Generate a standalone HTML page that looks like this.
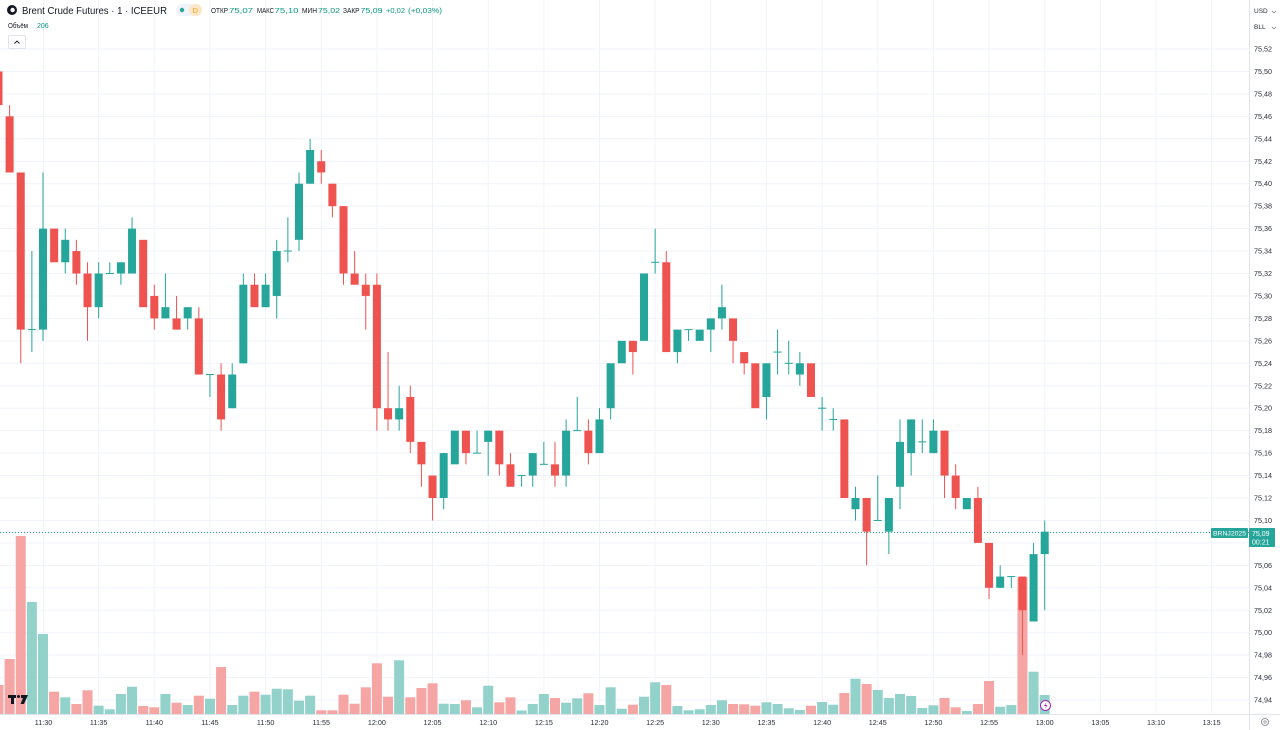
<!DOCTYPE html>
<html><head><meta charset="utf-8"><style>
html,body{margin:0;padding:0;background:#fff;}
svg{display:block;font-family:"Liberation Sans","Noto Sans CJK SC",sans-serif;}
</style></head><body>
<svg width="1280" height="730" viewBox="0 0 1280 730" xmlns="http://www.w3.org/2000/svg">
<rect width="1280" height="730" fill="#fff"/>
<!-- grid -->
<path fill="none" stroke="#f0f3fa" stroke-width="1" d="M0 49H1249M0 71.45H1249M0 93.9H1249M0 116.35H1249M0 138.8H1249M0 161.25H1249M0 183.7H1249M0 206.15H1249M0 228.6H1249M0 251.05H1249M0 273.5H1249M0 295.95H1249M0 318.4H1249M0 340.85H1249M0 363.3H1249M0 385.75H1249M0 408.2H1249M0 430.65H1249M0 453.1H1249M0 475.55H1249M0 498H1249M0 520.45H1249M0 542.9H1249M0 565.35H1249M0 587.8H1249M0 610.25H1249M0 632.7H1249M0 655.15H1249M0 677.6H1249M0 700.05H1249"/>
<path fill="none" stroke="#f0f3fa" stroke-width="1" d="M43.5 0V714M98.65 0V714M154.3 0V714M209.95 0V714M265.6 0V714M321.25 0V714M376.9 0V714M432.55 0V714M488.2 0V714M543.85 0V714M599.5 0V714M655.15 0V714M710.8 0V714M766.45 0V714M822.1 0V714M877.75 0V714M933.4 0V714M989.05 0V714M1044.7 0V714M1100.35 0V714M1156 0V714M1211.65 0V714"/>

<!-- volume -->
<g transform="matrix(11.13,0,0,1,43,0)">
<g fill="#f5a5a3">
<rect x="-4.45" y="685" width="0.9" height="29"/>
<rect x="-3.45" y="659" width="0.9" height="55"/>
<rect x="-2.45" y="536" width="0.9" height="178"/>
<rect x="0.55" y="691.7" width="0.9" height="22.3"/>
<rect x="2.55" y="704" width="0.9" height="10"/>
<rect x="3.55" y="690.3" width="0.9" height="23.7"/>
<rect x="8.55" y="706" width="0.9" height="8"/>
<rect x="9.55" y="707.3" width="0.9" height="6.7"/>
<rect x="11.55" y="702.7" width="0.9" height="11.3"/>
<rect x="13.55" y="695.7" width="0.9" height="18.3"/>
<rect x="15.55" y="667" width="0.9" height="47"/>
<rect x="18.55" y="691.7" width="0.9" height="22.3"/>
<rect x="24.55" y="710.3" width="0.9" height="3.7"/>
<rect x="25.55" y="710.3" width="0.9" height="3.7"/>
<rect x="26.55" y="694.7" width="0.9" height="19.3"/>
<rect x="27.55" y="703.7" width="0.9" height="10.3"/>
<rect x="28.55" y="687.3" width="0.9" height="26.7"/>
<rect x="29.55" y="663.3" width="0.9" height="50.7"/>
<rect x="30.55" y="696.7" width="0.9" height="17.3"/>
<rect x="32.55" y="697.3" width="0.9" height="16.7"/>
<rect x="33.55" y="688" width="0.9" height="26"/>
<rect x="34.55" y="683.3" width="0.9" height="30.7"/>
<rect x="37.55" y="700.3" width="0.9" height="13.7"/>
<rect x="40.55" y="702.3" width="0.9" height="11.7"/>
<rect x="41.55" y="697.3" width="0.9" height="16.7"/>
<rect x="45.55" y="698" width="0.9" height="16"/>
<rect x="48.55" y="693.3" width="0.9" height="20.7"/>
<rect x="52.55" y="704.7" width="0.9" height="9.3"/>
<rect x="55.55" y="685" width="0.9" height="29"/>
<rect x="61.55" y="704" width="0.9" height="10"/>
<rect x="62.55" y="704.3" width="0.9" height="9.7"/>
<rect x="63.55" y="705.7" width="0.9" height="8.3"/>
<rect x="68.55" y="705.7" width="0.9" height="8.3"/>
<rect x="71.55" y="693" width="0.9" height="21"/>
<rect x="73.55" y="684" width="0.9" height="30"/>
<rect x="80.55" y="698" width="0.9" height="16"/>
<rect x="81.55" y="707.3" width="0.9" height="6.7"/>
<rect x="83.55" y="704" width="0.9" height="10"/>
<rect x="84.55" y="681" width="0.9" height="33"/>
<rect x="87.55" y="577.3" width="0.9" height="136.7"/>
</g>
<g fill="#92d2cb">
<rect x="-1.45" y="602" width="0.9" height="112"/>
<rect x="-0.45" y="634" width="0.9" height="80"/>
<rect x="1.55" y="697.3" width="0.9" height="16.7"/>
<rect x="4.55" y="705.7" width="0.9" height="8.3"/>
<rect x="5.55" y="709.3" width="0.9" height="4.7"/>
<rect x="6.55" y="694" width="0.9" height="20"/>
<rect x="7.55" y="686.7" width="0.9" height="27.3"/>
<rect x="10.55" y="694" width="0.9" height="20"/>
<rect x="12.55" y="705" width="0.9" height="9"/>
<rect x="14.55" y="698.7" width="0.9" height="15.3"/>
<rect x="16.55" y="705" width="0.9" height="9"/>
<rect x="17.55" y="695.7" width="0.9" height="18.3"/>
<rect x="19.55" y="694.7" width="0.9" height="19.3"/>
<rect x="20.55" y="688.7" width="0.9" height="25.3"/>
<rect x="21.55" y="689.3" width="0.9" height="24.7"/>
<rect x="22.55" y="700.7" width="0.9" height="13.3"/>
<rect x="23.55" y="695.7" width="0.9" height="18.3"/>
<rect x="31.55" y="660.3" width="0.9" height="53.7"/>
<rect x="35.55" y="703.7" width="0.9" height="10.3"/>
<rect x="36.55" y="704" width="0.9" height="10"/>
<rect x="38.55" y="707.3" width="0.9" height="6.7"/>
<rect x="39.55" y="685.7" width="0.9" height="28.3"/>
<rect x="42.55" y="710.5" width="0.9" height="3.5"/>
<rect x="43.55" y="704" width="0.9" height="10"/>
<rect x="44.55" y="694" width="0.9" height="20"/>
<rect x="46.55" y="702.7" width="0.9" height="11.3"/>
<rect x="47.55" y="698.3" width="0.9" height="15.7"/>
<rect x="49.55" y="705" width="0.9" height="9"/>
<rect x="50.55" y="687.3" width="0.9" height="26.7"/>
<rect x="51.55" y="708.7" width="0.9" height="5.3"/>
<rect x="53.55" y="696.7" width="0.9" height="17.3"/>
<rect x="54.55" y="682.3" width="0.9" height="31.7"/>
<rect x="56.55" y="706" width="0.9" height="8"/>
<rect x="57.55" y="710.3" width="0.9" height="3.7"/>
<rect x="58.55" y="709.3" width="0.9" height="4.7"/>
<rect x="59.55" y="705" width="0.9" height="9"/>
<rect x="60.55" y="700.3" width="0.9" height="13.7"/>
<rect x="64.55" y="702.3" width="0.9" height="11.7"/>
<rect x="65.55" y="704" width="0.9" height="10"/>
<rect x="66.55" y="708.3" width="0.9" height="5.7"/>
<rect x="67.55" y="710" width="0.9" height="4"/>
<rect x="69.55" y="702" width="0.9" height="12"/>
<rect x="70.55" y="704.7" width="0.9" height="9.3"/>
<rect x="72.55" y="678.7" width="0.9" height="35.3"/>
<rect x="74.55" y="690" width="0.9" height="24"/>
<rect x="75.55" y="698" width="0.9" height="16"/>
<rect x="76.55" y="694" width="0.9" height="20"/>
<rect x="77.55" y="696" width="0.9" height="18"/>
<rect x="78.55" y="708" width="0.9" height="6"/>
<rect x="79.55" y="705.3" width="0.9" height="8.7"/>
<rect x="82.55" y="711" width="0.9" height="3"/>
<rect x="85.55" y="706.7" width="0.9" height="7.3"/>
<rect x="86.55" y="705" width="0.9" height="9"/>
<rect x="88.55" y="671.7" width="0.9" height="42.3"/>
<rect x="89.55" y="695" width="0.9" height="19"/>
</g>
</g>

<!-- price line -->
<line x1="0" y1="532.5" x2="1249" y2="532.5" stroke="#26a69a" stroke-width="1" stroke-dasharray="1 2"/>

<!-- candles: x = 43 + i*11.13 ; y = 1755.2 - 11.225*(P-7400) -->
<g transform="matrix(11.13,0,0,-11.225,43,1755.2)">
<g fill="#26a69a">
<!-- wicks -->
<rect x="-1.045" y="125" width="0.09" height="9"/>
<rect x="-0.045" y="126" width="0.09" height="15"/>
<rect x="1.955" y="132" width="0.09" height="4"/>
<rect x="4.955" y="128" width="0.09" height="5"/>
<rect x="5.955" y="132" width="0.09" height="1"/>
<rect x="6.955" y="131" width="0.09" height="2"/>
<rect x="7.955" y="132" width="0.09" height="5"/>
<rect x="10.955" y="128" width="0.09" height="4"/>
<rect x="12.955" y="127" width="0.09" height="2"/>
<rect x="14.955" y="121" width="0.09" height="2"/>
<rect x="16.955" y="120" width="0.09" height="4"/>
<rect x="17.955" y="124" width="0.09" height="8"/>
<rect x="19.955" y="129" width="0.09" height="3"/>
<rect x="20.955" y="128" width="0.09" height="7"/>
<rect x="21.955" y="133" width="0.09" height="4"/>
<rect x="22.955" y="134" width="0.09" height="7"/>
<rect x="23.955" y="140" width="0.09" height="4"/>
<rect x="31.955" y="118" width="0.09" height="4"/>
<rect x="35.955" y="111" width="0.09" height="5"/>
<rect x="38.955" y="116" width="0.09" height="2"/>
<rect x="39.955" y="114" width="0.09" height="4"/>
<rect x="42.955" y="113" width="0.09" height="1"/>
<rect x="43.955" y="113" width="0.09" height="3"/>
<rect x="44.955" y="115" width="0.09" height="2"/>
<rect x="46.955" y="113" width="0.09" height="6"/>
<rect x="47.955" y="118" width="0.09" height="3"/>
<rect x="49.955" y="116" width="0.09" height="4"/>
<rect x="50.955" y="119" width="0.09" height="5"/>
<rect x="54.955" y="132" width="0.09" height="4"/>
<rect x="56.955" y="124" width="0.09" height="3"/>
<rect x="57.955" y="126" width="0.09" height="1"/>
<rect x="59.955" y="125" width="0.09" height="3"/>
<rect x="60.955" y="127" width="0.09" height="4"/>
<rect x="64.955" y="119" width="0.09" height="5"/>
<rect x="65.955" y="123" width="0.09" height="4"/>
<rect x="66.955" y="123" width="0.09" height="3"/>
<rect x="67.955" y="122" width="0.09" height="3"/>
<rect x="69.955" y="118" width="0.09" height="3"/>
<rect x="70.955" y="118" width="0.09" height="2"/>
<rect x="72.955" y="110" width="0.09" height="3"/>
<rect x="74.955" y="110" width="0.09" height="4"/>
<rect x="75.955" y="107" width="0.09" height="5"/>
<rect x="76.955" y="111" width="0.09" height="8"/>
<rect x="77.955" y="114" width="0.09" height="5"/>
<rect x="78.955" y="116" width="0.09" height="3"/>
<rect x="79.955" y="116" width="0.09" height="3"/>
<rect x="85.955" y="104" width="0.09" height="2"/>
<rect x="86.955" y="104" width="0.09" height="1"/>
<rect x="88.955" y="101" width="0.09" height="7"/>
<rect x="89.955" y="102" width="0.09" height="8"/>
<!-- bodies -->
<rect x="-1.36" y="126.955" width="0.72" height="0.09"/>
<rect x="-0.36" y="127" width="0.72" height="9"/>
<rect x="1.64" y="133" width="0.72" height="2"/>
<rect x="4.64" y="129" width="0.72" height="3"/>
<rect x="5.64" y="131.955" width="0.72" height="0.09"/>
<rect x="6.64" y="132" width="0.72" height="1"/>
<rect x="7.64" y="132" width="0.72" height="4"/>
<rect x="10.64" y="128" width="0.72" height="1"/>
<rect x="12.64" y="128" width="0.72" height="1"/>
<rect x="14.64" y="122.955" width="0.72" height="0.09"/>
<rect x="16.64" y="120" width="0.72" height="3"/>
<rect x="17.64" y="124" width="0.72" height="7"/>
<rect x="19.64" y="129" width="0.72" height="2"/>
<rect x="20.64" y="130" width="0.72" height="4"/>
<rect x="21.64" y="133.955" width="0.72" height="0.09"/>
<rect x="22.64" y="135" width="0.72" height="5"/>
<rect x="23.64" y="140" width="0.72" height="3"/>
<rect x="31.64" y="119" width="0.72" height="1"/>
<rect x="35.64" y="112" width="0.72" height="4"/>
<rect x="36.64" y="115" width="0.72" height="3"/>
<rect x="38.64" y="115.955" width="0.72" height="0.09"/>
<rect x="39.64" y="117" width="0.72" height="1"/>
<rect x="42.64" y="113.955" width="0.72" height="0.09"/>
<rect x="43.64" y="114" width="0.72" height="2"/>
<rect x="44.64" y="114.955" width="0.72" height="0.09"/>
<rect x="46.64" y="114" width="0.72" height="4"/>
<rect x="47.64" y="117.955" width="0.72" height="0.09"/>
<rect x="49.64" y="116" width="0.72" height="3"/>
<rect x="50.64" y="120" width="0.72" height="4"/>
<rect x="51.64" y="124" width="0.72" height="2"/>
<rect x="53.64" y="126" width="0.72" height="6"/>
<rect x="54.64" y="132.955" width="0.72" height="0.09"/>
<rect x="56.64" y="125" width="0.72" height="2"/>
<rect x="57.64" y="126.955" width="0.72" height="0.09"/>
<rect x="58.64" y="126" width="0.72" height="1"/>
<rect x="59.64" y="127" width="0.72" height="1"/>
<rect x="60.64" y="128" width="0.72" height="1"/>
<rect x="64.64" y="121" width="0.72" height="3"/>
<rect x="65.64" y="124.955" width="0.72" height="0.09"/>
<rect x="66.64" y="123.955" width="0.72" height="0.09"/>
<rect x="67.64" y="123" width="0.72" height="1"/>
<rect x="69.64" y="119.955" width="0.72" height="0.09"/>
<rect x="70.64" y="118.955" width="0.72" height="0.09"/>
<rect x="72.64" y="111" width="0.72" height="1"/>
<rect x="74.64" y="109.955" width="0.72" height="0.09"/>
<rect x="75.64" y="109" width="0.72" height="3"/>
<rect x="76.64" y="113" width="0.72" height="4"/>
<rect x="77.64" y="116" width="0.72" height="3"/>
<rect x="78.64" y="116.955" width="0.72" height="0.09"/>
<rect x="79.64" y="116" width="0.72" height="2"/>
<rect x="82.64" y="111" width="0.72" height="1"/>
<rect x="85.64" y="104" width="0.72" height="1"/>
<rect x="86.64" y="104.955" width="0.72" height="0.09"/>
<rect x="88.64" y="101" width="0.72" height="6"/>
<rect x="89.64" y="107" width="0.72" height="2"/>
</g>
<g fill="#ef5350">
<!-- wicks -->
<rect x="-3.045" y="141" width="0.09" height="6"/>
<rect x="-2.045" y="124" width="0.09" height="17"/>
<rect x="2.955" y="131" width="0.09" height="4"/>
<rect x="3.955" y="126" width="0.09" height="7"/>
<rect x="9.955" y="127" width="0.09" height="4"/>
<rect x="11.955" y="127" width="0.09" height="3"/>
<rect x="13.955" y="123" width="0.09" height="6"/>
<rect x="15.955" y="118" width="0.09" height="6"/>
<rect x="18.955" y="129" width="0.09" height="3"/>
<rect x="24.955" y="140" width="0.09" height="3"/>
<rect x="25.955" y="137" width="0.09" height="3"/>
<rect x="26.955" y="131" width="0.09" height="7"/>
<rect x="27.955" y="131" width="0.09" height="3"/>
<rect x="28.955" y="127" width="0.09" height="5"/>
<rect x="29.955" y="118" width="0.09" height="14"/>
<rect x="30.955" y="118" width="0.09" height="7"/>
<rect x="32.955" y="116" width="0.09" height="6"/>
<rect x="33.955" y="113" width="0.09" height="4"/>
<rect x="34.955" y="110" width="0.09" height="4"/>
<rect x="37.955" y="115" width="0.09" height="3"/>
<rect x="40.955" y="114" width="0.09" height="4"/>
<rect x="41.955" y="113" width="0.09" height="3"/>
<rect x="45.955" y="113" width="0.09" height="4"/>
<rect x="48.955" y="115" width="0.09" height="4"/>
<rect x="52.955" y="123" width="0.09" height="3"/>
<rect x="55.955" y="125" width="0.09" height="9"/>
<rect x="61.955" y="124" width="0.09" height="4"/>
<rect x="62.955" y="123" width="0.09" height="2"/>
<rect x="73.955" y="106" width="0.09" height="6"/>
<rect x="80.955" y="112" width="0.09" height="6"/>
<rect x="81.955" y="111" width="0.09" height="4"/>
<rect x="83.955" y="108" width="0.09" height="5"/>
<rect x="84.955" y="103" width="0.09" height="5"/>
<rect x="87.955" y="98" width="0.09" height="7"/>
<!-- bodies -->
<rect x="-4.36" y="147" width="0.72" height="3"/>
<rect x="-3.36" y="141" width="0.72" height="5"/>
<rect x="-2.36" y="127" width="0.72" height="14"/>
<rect x="0.64" y="133" width="0.72" height="3"/>
<rect x="2.64" y="132" width="0.72" height="2"/>
<rect x="3.64" y="129" width="0.72" height="3"/>
<rect x="8.64" y="129" width="0.72" height="6"/>
<rect x="9.64" y="128" width="0.72" height="2"/>
<rect x="11.64" y="127" width="0.72" height="1"/>
<rect x="13.64" y="123" width="0.72" height="5"/>
<rect x="15.64" y="119" width="0.72" height="4"/>
<rect x="18.64" y="129" width="0.72" height="2"/>
<rect x="24.64" y="141" width="0.72" height="1"/>
<rect x="25.64" y="138" width="0.72" height="2"/>
<rect x="26.64" y="132" width="0.72" height="6"/>
<rect x="27.64" y="131" width="0.72" height="1"/>
<rect x="28.64" y="130" width="0.72" height="1"/>
<rect x="29.64" y="120" width="0.72" height="11"/>
<rect x="30.64" y="119" width="0.72" height="1"/>
<rect x="32.64" y="117" width="0.72" height="4"/>
<rect x="33.64" y="115" width="0.72" height="2"/>
<rect x="34.64" y="112" width="0.72" height="2"/>
<rect x="37.64" y="116" width="0.72" height="2"/>
<rect x="40.64" y="115" width="0.72" height="3"/>
<rect x="41.64" y="113" width="0.72" height="2"/>
<rect x="45.64" y="114" width="0.72" height="1"/>
<rect x="48.64" y="116" width="0.72" height="2"/>
<rect x="52.64" y="125" width="0.72" height="1"/>
<rect x="55.64" y="125" width="0.72" height="8"/>
<rect x="61.64" y="126" width="0.72" height="2"/>
<rect x="62.64" y="124" width="0.72" height="1"/>
<rect x="63.64" y="120" width="0.72" height="4"/>
<rect x="68.64" y="121" width="0.72" height="3"/>
<rect x="71.64" y="112" width="0.72" height="7"/>
<rect x="73.64" y="109" width="0.72" height="3"/>
<rect x="80.64" y="114" width="0.72" height="4"/>
<rect x="81.64" y="112" width="0.72" height="2"/>
<rect x="83.64" y="108" width="0.72" height="4"/>
<rect x="84.64" y="104" width="0.72" height="4"/>
<rect x="87.64" y="102" width="0.72" height="3"/>
</g>
</g>

<!-- axes -->
<rect x="1250" y="0" width="30" height="730" fill="#fff"/>
<rect x="0" y="714" width="1280" height="16" fill="#fff"/>
<line x1="1249.5" y1="0" x2="1249.5" y2="730" stroke="#e0e3eb" stroke-width="1"/>
<line x1="0" y1="714.5" x2="1280" y2="714.5" stroke="#e0e3eb" stroke-width="1"/>

<!-- price labels -->
<g font-size="7.2" fill="#2a2e39">
<text x="1254" y="51.5">75,52</text>
<text x="1254" y="74">75,50</text>
<text x="1254" y="96.4">75,48</text>
<text x="1254" y="118.9">75,46</text>
<text x="1254" y="141.3">75,44</text>
<text x="1254" y="163.8">75,42</text>
<text x="1254" y="186.2">75,40</text>
<text x="1254" y="208.7">75,38</text>
<text x="1254" y="231.1">75,36</text>
<text x="1254" y="253.6">75,34</text>
<text x="1254" y="276">75,32</text>
<text x="1254" y="298.5">75,30</text>
<text x="1254" y="320.9">75,28</text>
<text x="1254" y="343.4">75,26</text>
<text x="1254" y="365.8">75,24</text>
<text x="1254" y="388.3">75,22</text>
<text x="1254" y="410.7">75,20</text>
<text x="1254" y="433.2">75,18</text>
<text x="1254" y="455.6">75,16</text>
<text x="1254" y="478.1">75,14</text>
<text x="1254" y="500.5">75,12</text>
<text x="1254" y="523">75,10</text>
<text x="1254" y="567.9">75,06</text>
<text x="1254" y="590.3">75,04</text>
<text x="1254" y="612.8">75,02</text>
<text x="1254" y="635.2">75,00</text>
<text x="1254" y="657.7">74,98</text>
<text x="1254" y="680.1">74,96</text>
<text x="1254" y="702.6">74,94</text>
</g>
<g font-size="6.5" fill="#2a2e39">
<text x="1254" y="13">USD</text>
<text x="1254" y="29">BLL</text>
</g>
<path d="M1272 11l2 2 2-2M1272 27l2 2 2-2" stroke="#787b86" stroke-width="0.7" fill="none"/>

<!-- current price labels -->
<rect x="1211" y="528" width="37" height="10" rx="1" fill="#26a69a"/>
<text x="1213" y="535.6" font-size="6.4" fill="#fff" textLength="33" lengthAdjust="spacingAndGlyphs">BRNJ2025</text>
<rect x="1249" y="528" width="26" height="19" rx="1" fill="#26a69a"/>
<text x="1252" y="535.8" font-size="7" fill="#fff">75,09</text>
<text x="1252" y="544.5" font-size="7" fill="#fff">00:21</text>

<!-- time labels -->
<g font-size="7.2" fill="#2a2e39" text-anchor="middle">
<text x="43.5" y="725">11:30</text>
<text x="98.65" y="725">11:35</text>
<text x="154.3" y="725">11:40</text>
<text x="209.95" y="725">11:45</text>
<text x="265.6" y="725">11:50</text>
<text x="321.25" y="725">11:55</text>
<text x="376.9" y="725">12:00</text>
<text x="432.55" y="725">12:05</text>
<text x="488.2" y="725">12:10</text>
<text x="543.85" y="725">12:15</text>
<text x="599.5" y="725">12:20</text>
<text x="655.15" y="725">12:25</text>
<text x="710.8" y="725">12:30</text>
<text x="766.45" y="725">12:35</text>
<text x="822.1" y="725">12:40</text>
<text x="877.75" y="725">12:45</text>
<text x="933.4" y="725">12:50</text>
<text x="989.05" y="725">12:55</text>
<text x="1044.7" y="725">13:00</text>
<text x="1100.35" y="725">13:05</text>
<text x="1156" y="725">13:10</text>
<text x="1211.65" y="725">13:15</text>
</g>
<circle cx="1265" cy="722" r="3.5" fill="none" stroke="#787b86" stroke-width="0.8"/>
<circle cx="1265" cy="722" r="1.2" fill="none" stroke="#787b86" stroke-width="0.6"/>

<!-- lightning icon -->
<circle cx="1045.5" cy="705.5" r="5" fill="#fff" stroke="#9c27b0" stroke-width="1"/>
<path d="M1046.5 702l-2.5 4h2l-1 3 2.5-4h-2z" fill="#9c27b0"/>

<!-- TV logo -->
<g fill="#131722">
<rect x="8" y="695" width="8" height="3"/>
<rect x="11" y="695" width="3" height="9"/>
<circle cx="18.5" cy="696.5" r="1.5"/>
<polygon points="21,695 28,695 24,704 20.5,704 23,698 21,698"/>
</g>

<!-- header -->
<circle cx="12" cy="10" r="5" fill="#131722"/>
<circle cx="12.6" cy="10" r="2.2" fill="#fff"/>
<text x="22" y="13.8" font-size="10.5" fill="#131722" textLength="145" lengthAdjust="spacingAndGlyphs">Brent Crude Futures · 1 · ICEEUR</text>
<rect x="176" y="4" width="26" height="12" rx="6" fill="#f0f3fa"/>
<rect x="189" y="4" width="13" height="12" rx="6" fill="#fde7c7"/>
<circle cx="182" cy="10" r="2.2" fill="#26a69a"/>
<text x="192.5" y="13" font-size="7.5" fill="#f7a21b">D</text>
<g font-size="7.2">
<text x="211" y="13" fill="#131722" textLength="17" lengthAdjust="spacingAndGlyphs">ОТКР</text>
<text x="229" y="13" fill="#089981" textLength="24" lengthAdjust="spacingAndGlyphs">75,07</text>
<text x="257" y="13" fill="#131722" textLength="17" lengthAdjust="spacingAndGlyphs">МАКС</text>
<text x="274.5" y="13" fill="#089981" textLength="24" lengthAdjust="spacingAndGlyphs">75,10</text>
<text x="302" y="13" fill="#131722" textLength="15" lengthAdjust="spacingAndGlyphs">МИН</text>
<text x="318" y="13" fill="#089981" textLength="22" lengthAdjust="spacingAndGlyphs">75,02</text>
<text x="343" y="13" fill="#131722" textLength="16.5" lengthAdjust="spacingAndGlyphs">ЗАКР</text>
<text x="360.5" y="13" fill="#089981" textLength="22" lengthAdjust="spacingAndGlyphs">75,09</text>
<text x="386" y="13" fill="#089981" textLength="19" lengthAdjust="spacingAndGlyphs">+0,02</text>
<text x="408" y="13" fill="#089981" textLength="34" lengthAdjust="spacingAndGlyphs">(+0,03%)</text>
</g>
<text x="8" y="28" font-size="7" fill="#131722" textLength="20" lengthAdjust="spacingAndGlyphs">Объём</text>
<text x="37" y="28" font-size="7" fill="#089981">206</text>
<rect x="8.5" y="35.5" width="17" height="13" rx="1.5" fill="#fff" stroke="#e0e3eb" stroke-width="1"/>
<path d="M14.5 43.5l2.5-2.5 2.5 2.5" stroke="#131722" stroke-width="0.9" fill="none"/>
</svg>
</body></html>
